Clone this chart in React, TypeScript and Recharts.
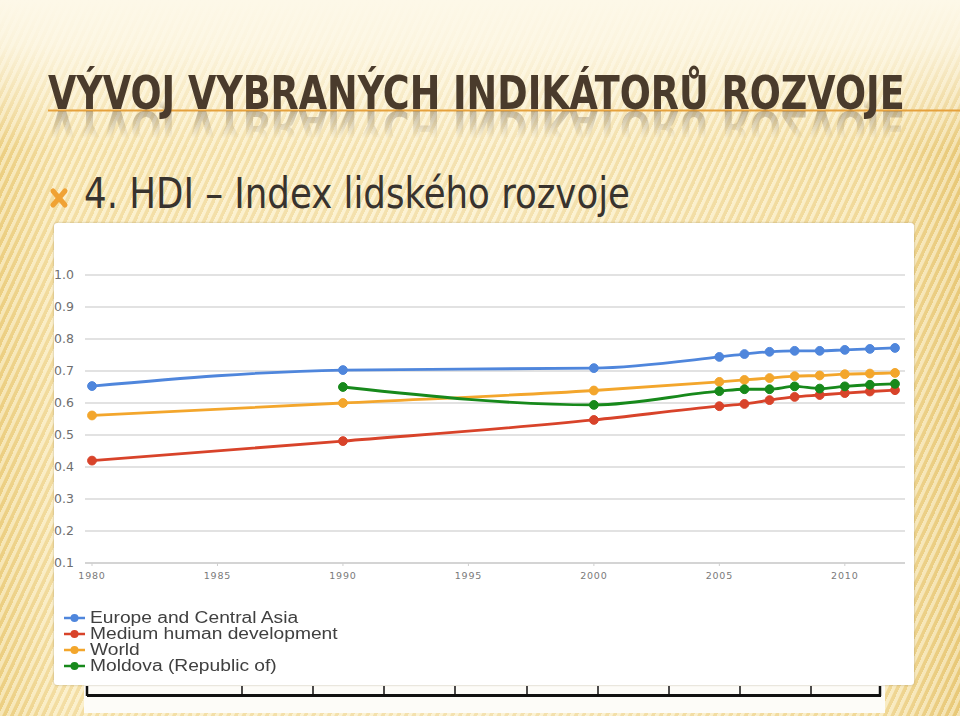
import React from 'react';
import { LineChart, Line, XAxis, YAxis, CartesianGrid, Legend } from 'recharts';

const years = [1980, 1990, 2000, 2005, 2006, 2007, 2008, 2009, 2010, 2011, 2012];
const europeCentralAsia = [0.653, 0.703, 0.709, 0.744, 0.753, 0.76, 0.763, 0.763, 0.766, 0.769, 0.772];
const mediumHumanDevelopment = [0.42, 0.481, 0.547, 0.59, 0.597, 0.609, 0.619, 0.625, 0.631, 0.636, 0.64];
const world = [0.561, 0.6, 0.639, 0.666, 0.672, 0.678, 0.684, 0.686, 0.69, 0.692, 0.694];
const moldova = [null, 0.65, 0.594, 0.637, 0.643, 0.643, 0.652, 0.645, 0.652, 0.657, 0.66];

const xTicks = [1980, 1985, 1990, 1995, 2000, 2005, 2010];
const yTicks = [0.1, 0.2, 0.3, 0.4, 0.5, 0.6, 0.7, 0.8, 0.9, 1.0];

const seriesNames = ['Europe and Central Asia', 'Medium human development', 'World', 'Moldova (Republic of)'];
const seriesKeys = ['eca', 'mhd', 'world', 'mda'];
const seriesColors = ['#4f86dc', '#d8432a', '#f3a62c', '#17891b'];

const titleText = 'VÝVOJ VYBRANÝCH INDIKÁTORŮ ROZVOJE';
const subtitleText = '4. HDI – Index lidského rozvoje';

const data = years.map((y, i) => ({
  year: y,
  eca: europeCentralAsia[i],
  mhd: mediumHumanDevelopment[i],
  world: world[i],
  mda: moldova[i],
}));

const LegendContent = () => (
  <div style={{ fontFamily: '"Liberation Sans", Arial, sans-serif', fontSize: 16, color: '#404040' }}>
    {seriesNames.map((name, i) => (
      <div key={name} style={{ display: 'flex', alignItems: 'center', height: 16, lineHeight: '16px' }}>
        <svg width={27} height={16} style={{ flex: 'none' }}>
          <line x1={1} y1={8} x2={22} y2={8} stroke={seriesColors[i]} strokeWidth={2.5} />
          <circle cx={11.5} cy={8} r={4} fill={seriesColors[i]} />
        </svg>
        <span style={{ display: 'inline-block', transform: 'scaleX(1.2)', transformOrigin: 'left center', whiteSpace: 'nowrap' }}>
          {name}
        </span>
      </div>
    ))}
  </div>
);

const bottomTicks = [87, 242, 313, 384, 455, 527, 598, 669, 740, 811, 880];

export default function App() {
  return (
    <div
      style={{
        position: 'absolute',
        left: 0,
        top: 0,
        width: 960,
        height: 716,
        overflow: 'hidden',
        background:
          'linear-gradient(to bottom, rgba(253,248,232,1) 0px, rgba(253,248,232,0.85) 45px, rgba(253,248,232,0) 150px),' +
          'repeating-linear-gradient(115deg, rgba(255,252,235,0.45) 0px, rgba(255,252,235,0.45) 3px, rgba(214,172,70,0.14) 4px, rgba(214,172,70,0.14) 7px),' +
          'linear-gradient(to right, #efd48b 0px, #f8e6b3 60px, #f9ebc3 500px, #f5e0a6 880px, #ebcd80 960px)',
      }}
    >
      {/* orange rule under title */}
      <svg width={960} height={4} style={{ position: 'absolute', left: 0, top: 109 }}>
        <line x1={48} y1={1.5} x2={960} y2={1.5} stroke="#e6a13c" strokeWidth={2} />
      </svg>

      {/* title with reflection */}
      <div
        style={{
          position: 'absolute',
          left: 0,
          top: 0,
          width: 960,
          height: 120,
          WebkitBoxReflect: 'below -20px linear-gradient(to bottom, transparent 68%, rgba(255,255,255,0.3) 90%, rgba(255,255,255,0) 100%)',
        } as React.CSSProperties}
      >
        <svg width={960} height={120} style={{ display: 'block' }}>
          <text
            transform="translate(48,109) scale(0.885,1)"
            x={0}
            y={0}
            textLength={968}
            lengthAdjust="spacingAndGlyphs"
            fontFamily='"Liberation Sans Narrow", "DejaVu Sans Condensed", sans-serif'
            fontWeight={700}
            fontSize={46}
            fill="#4a3b2c"
          >
            {titleText}
          </text>
        </svg>
      </div>

      {/* subtitle */}
      <svg width={960} height={100} style={{ position: 'absolute', left: 0, top: 130 }}>
        <g stroke="#f0a234" strokeWidth={5} strokeLinecap="round">
          <line x1={53} y1={61} x2={65} y2={75} />
          <line x1={65} y1={61} x2={53} y2={75} />
        </g>
        <text
          x={84}
          y={78}
          textLength={546}
          lengthAdjust="spacingAndGlyphs"
          fontFamily='"Liberation Sans Narrow", "DejaVu Sans Condensed", sans-serif'
          fontSize={42}
          fill="#38332e"
        >
          {subtitleText}
        </text>
      </svg>

      {/* bottom strip */}
      <svg width={960} height={40} style={{ position: 'absolute', left: 0, top: 680 }}>
        <rect x={84} y={5} width={801} height={28} fill="#fdfcf8" />
        <line x1={87} y1={15.5} x2={881} y2={15.5} stroke="#111" strokeWidth={3} />
        {bottomTicks.map((t) => (
          <line key={t} x1={t} y1={6} x2={t} y2={16} stroke="#111" strokeWidth={t === 87 || t === 880 ? 2.5 : 1.5} />
        ))}
      </svg>

      {/* chart box */}
      <div
        style={{
          position: 'absolute',
          left: 54,
          top: 223,
          width: 860,
          height: 462,
          background: '#ffffff',
          borderRadius: 3,
          boxShadow: '0 0 2px rgba(120,100,60,0.5)',
          overflow: 'hidden',
        }}
      >
        <LineChart width={860} height={462} data={data} margin={{ top: 52, right: 9, left: 0, bottom: 30 }}>
          <CartesianGrid vertical={false} stroke="#d9d9d9" strokeWidth={1.5} />
          <XAxis
            dataKey="year"
            type="number"
            domain={[1980, 2012]}
            ticks={xTicks}
            padding={{ left: 7, right: 10 }}
            height={22}
            axisLine={{ stroke: '#cfcfcf', strokeWidth: 1.5 }}
            tickLine={{ stroke: '#cfcfcf' }}
            tickSize={3}
            tickMargin={6}
            tick={{ fontSize: 9.5, fill: '#7a7a7a', fontFamily: '"DejaVu Sans", Verdana, sans-serif', letterSpacing: 0.8 }}
          />
          <YAxis
            type="number"
            domain={[0.1, 1.0]}
            ticks={yTicks}
            width={31}
            axisLine={false}
            tickLine={false}
            tickMargin={5}
            tickFormatter={(v: number) => v.toFixed(1)}
            tick={{ fontSize: 12.5, fill: '#6f6f6f', fontFamily: '"DejaVu Sans", Verdana, sans-serif' }}
          />
          <Legend
            layout="horizontal"
            align="left"
            verticalAlign="bottom"
            content={<LegendContent />}
            wrapperStyle={{ position: 'absolute', left: 9, top: 387, width: 400, height: 70 }}
          />
          {seriesKeys.map((k, i) => (
            <Line
              key={k}
              dataKey={k}
              name={seriesNames[i]}
              type="monotone"
              stroke={seriesColors[i]}
              strokeWidth={2.8}
              dot={{ r: 4.4, fill: seriesColors[i], stroke: seriesColors[i], strokeWidth: 1 }}
              activeDot={false}
              connectNulls={false}
              isAnimationActive={false}
            />
          ))}
        </LineChart>
      </div>
    </div>
  );
}
